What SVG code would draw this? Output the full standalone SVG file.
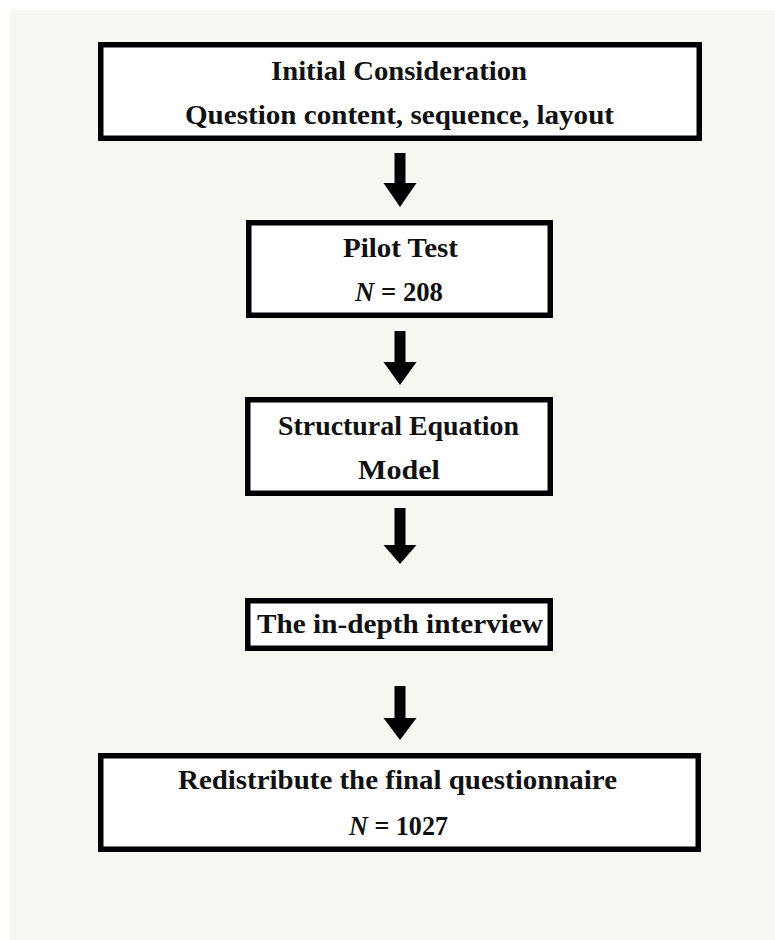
<svg xmlns="http://www.w3.org/2000/svg" width="775" height="940" viewBox="0 0 775 940">
  <style>
    .box { fill: #ffffff; stroke: #000000; stroke-width: 5.5; }
    .t { font-family: "Liberation Serif", "Times New Roman", serif; font-weight: bold; font-size: 28px; fill: #111111; text-anchor: middle; }
    .it { font-style: italic; }
    .arrow { fill: #000000; stroke: none; }
  </style>
  <rect x="0" y="0" width="775" height="940" fill="#ffffff"/>
  <rect x="10" y="10" width="765" height="930" fill="#f5f7f0"/>

  <g id="connectors">
    <path class="arrow" d="M394.5 153 H405.5 V183 H416.5 L400 207 L383.5 183 H394.5 Z"/>
    <path class="arrow" d="M394.5 331 H405.5 V362 H416.5 L400 385 L383.5 362 H394.5 Z"/>
    <path class="arrow" d="M394.5 508 H405.5 V545 H416.5 L400 564 L383.5 545 H394.5 Z"/>
    <path class="arrow" d="M394.5 686 H405.5 V718 H416.5 L400 740 L383.5 718 H394.5 Z"/>
  </g>

  <g id="node-initial">
    <rect class="box" x="100.75" y="44.75" width="598.5" height="93.5"/>
    <text class="t" x="399" y="80" textLength="256" lengthAdjust="spacingAndGlyphs">Initial Consideration</text>
    <text class="t" x="399.5" y="124" textLength="429" lengthAdjust="spacingAndGlyphs">Question content, sequence, layout</text>
  </g>

  <g id="node-pilot">
    <rect class="box" x="248.75" y="222.75" width="301.5" height="92.5"/>
    <text class="t" x="400.5" y="257" textLength="115" lengthAdjust="spacingAndGlyphs">Pilot Test</text>
    <text class="t" x="399" y="301" textLength="88" lengthAdjust="spacingAndGlyphs"><tspan class="it">N</tspan> = 208</text>
  </g>

  <g id="node-sem">
    <rect class="box" x="247.75" y="399.75" width="302.5" height="93.5"/>
    <text class="t" x="398.5" y="435" textLength="241" lengthAdjust="spacingAndGlyphs">Structural Equation</text>
    <text class="t" x="399" y="479" textLength="82" lengthAdjust="spacingAndGlyphs">Model</text>
  </g>

  <g id="node-interview">
    <rect class="box" x="247.75" y="600.75" width="302.5" height="47.5"/>
    <text class="t" x="400" y="633" textLength="286" lengthAdjust="spacingAndGlyphs">The in-depth interview</text>
  </g>

  <g id="node-final">
    <rect class="box" x="100.75" y="755.75" width="597.5" height="93.5"/>
    <text class="t" x="397.5" y="789" textLength="439" lengthAdjust="spacingAndGlyphs">Redistribute the final questionnaire</text>
    <text class="t" x="398.5" y="835" textLength="99" lengthAdjust="spacingAndGlyphs"><tspan class="it">N</tspan> = 1027</text>
  </g>
</svg>
